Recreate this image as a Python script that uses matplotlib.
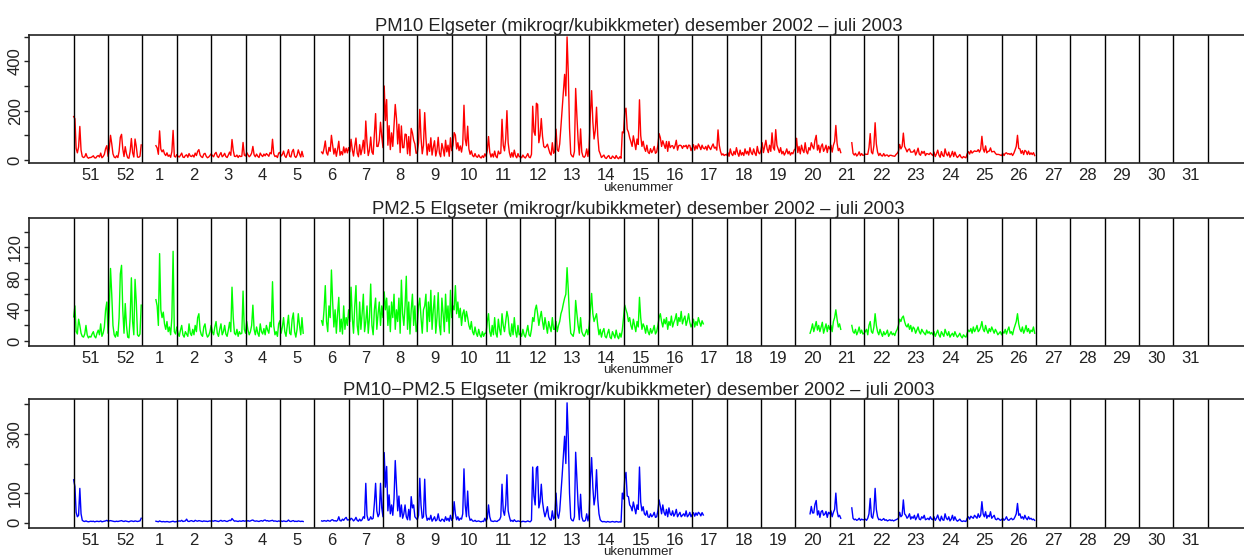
import numpy as np
import matplotlib.pyplot as plt

plt.rcParams['font.family'] = ['Liberation Sans Narrow', 'Liberation Sans', 'DejaVu Sans']

nan = np.nan

# 6-hourly values, one line per week (week 51/2002 .. week 26/2003), 28 values each
pm10 = [
    176, 167, 47, 29, 53, 136, 40, 14, 10, 13, 26, 12, 7, 10, 10, 13, 17, 9, 8, 15, 18, 12, 28, 9, 14, 23, 46, 58,
    15, 46, 100, 66, 25, 12, 9, 17, 10, 35, 92, 104, 45, 14, 54, 25, 9, 7, 35, 87, 30, 12, 85, 55, 12, 11, 15, 61,
    *[nan] * 11, 58, 49, 23, 118, 44, 33, 41, 25, 18, 29, 15, 20, 11, 34, 120, 15, 12,
    22, 15, 12, 19, 28, 12, 10, 18, 21, 11, 26, 16, 14, 20, 12, 28, 18, 35, 42, 20, 13, 10, 24, 27, 15, 9, 12, 18,
    25, 18, 13, 25, 31, 15, 10, 21, 30, 13, 18, 27, 14, 10, 20, 32, 19, 83, 39, 15, 14, 20, 10, 18, 14, 15, 71, 20,
    16, 30, 21, 13, 18, 28, 55, 21, 13, 24, 15, 10, 28, 19, 14, 24, 17, 26, 21, 15, 30, 25, 84, 25, 14, 17, 10, 28,
    31, 16, 22, 36, 17, 10, 25, 42, 15, 12, 34, 43, 16, 10, 19, 41, 25, 12, 35, 14, *[nan] * 8,
    *[nan] * 6, 32, 25, 47, 77, 30, 20, 51, 35, 100, 60, 24, 47, 15, 43, 76, 19, 34, 21, 53, 29, 48, 29,
    50, 33, 84, 42, 16, 55, 89, 28, 13, 62, 21, 45, 80, 27, 158, 70, 18, 40, 93, 32, 23, 105, 188, 55, 55, 80, 153, 95,
    50, 300, 160, 245, 60, 139, 42, 110, 55, 140, 225, 168, 65, 145, 30, 138, 50, 50, 105, 103, 25, 95, 18, 128, 110, 80, 65, 27,
    30, 70, 205, 90, 25, 60, 192, 90, 20, 65, 35, 90, 20, 52, 78, 16, 40, 92, 28, 13, 67, 45, 16, 80, 33, 60, 15, 90,
    38, 60, 111, 101, 45, 70, 38, 57, 32, 65, 222, 85, 58, 137, 45, 23, 37, 18, 13, 26, 14, 11, 21, 12, 8, 17, 10, 25,
    15, 40, 95, 32, 12, 25, 12, 36, 15, 9, 36, 25, 28, 165, 60, 37, 85, 200, 70, 30, 11, 30, 12, 40, 17, 9, 26, 13,
    14, 9, 20, 12, 8, 16, 26, 12, 9, 23, 218, 115, 100, 230, 225, 70, 100, 168, 96, 55, 50, 55, 64, 45, 28, 20, 70, 27,
    35, 125, 42, 35, 65, 135, 200, 274, 347, 260, 499, 351, 130, 25, 16, 12, 35, 290, 180, 80, 20, 126, 32, 14, 11, 18, 45, 14,
    50, 190, 281, 155, 85, 120, 214, 100, 38, 25, 10, 15, 20, 9, 6, 14, 18, 7, 6, 16, 11, 6, 18, 9, 5, 13, 7, 114,
    110, 196, 210, 125, 113, 90, 74, 55, 98, 70, 42, 85, 63, 244, 100, 55, 76, 48, 35, 60, 32, 26, 46, 30, 39, 55, 27, 32,
    60, 107, 90, 55, 78, 63, 47, 75, 35, 75, 50, 57, 58, 46, 58, 80, 40, 58, 60, 58, 47, 58, 54, 60, 46, 60, 59, 38,
    50, 62, 40, 58, 45, 65, 55, 42, 60, 48, 45, 55, 40, 60, 50, 42, 55, 65, 48, 52, 40, 122, 60, 35, 20, 25, 18, 22,
    20, 30, 15, 45, 25, 18, 35, 22, 50, 28, 15, 40, 20, 30, 18, 45, 25, 35, 20, 50, 30, 22, 45, 28, 18, 55, 30, 25,
    40, 70, 30, 55, 80, 45, 30, 60, 35, 110, 50, 40, 123, 60, 45, 30, 50, 25, 35, 20, 30, 45, 25, 35, 20, 30, 25, 40,
    45, 88, 30, 55, 25, 60, 40, 30, 70, 35, 25, 50, 40, 70, 55, 45, 80, 100, 40, 60, 30, 55, 65, 35, 45, 60, 30, 55,
    45, 60, 32, 60, 75, 140, 68, 38, 47, 30, *[nan] * 8, 70, 27, 20, 27, 16, 22, 33, 18, 26, 19,
    20, 24, 23, 23, 50, 107, 32, 25, 58, 151, 65, 32, 18, 27, 18, 16, 26, 16, 20, 20, 14, 19, 19, 17, 16, 15, 22, 27,
    35, 63, 45, 55, 109, 55, 45, 33, 42, 45, 32, 32, 33, 41, 20, 32, 48, 24, 19, 35, 27, 35, 18, 26, 25, 22, 29, 23,
    18, 32, 14, 25, 40, 20, 11, 34, 19, 14, 45, 25, 17, 32, 11, 20, 35, 14, 32, 18, 10, 15, 22, 12, 8, 14, 11, 9,
    25, 34, 24, 38, 28, 33, 37, 35, 35, 42, 32, 43, 96, 45, 32, 57, 29, 35, 36, 49, 33, 34, 35, 27, 22, 23, 22, 20,
    18, 27, 18, 27, 29, 24, 26, 22, 27, 18, 27, 40, 55, 100, 47, 45, 27, 38, 22, 39, 35, 22, 36, 22, 29, 22, 30, 18,
]

pm25 = [
    31, 45, 12, 9, 28, 20, 10, 6, 5, 9, 20, 8, 4, 6, 5, 9, 12, 6, 4, 10, 14, 8, 22, 6, 10, 18, 40, 50,
    10, 40, 93, 60, 20, 8, 5, 12, 6, 30, 86, 97, 40, 10, 48, 20, 5, 4, 30, 81, 25, 8, 79, 50, 8, 6, 9, 46,
    *[nan] * 11, 53, 45, 20, 112, 40, 30, 37, 22, 15, 25, 12, 18, 8, 30, 115, 12, 9,
    18, 10, 6, 14, 20, 8, 5, 12, 9, 6, 22, 10, 7, 15, 8, 20, 12, 30, 35, 14, 8, 6, 18, 22, 10, 5, 7, 12,
    20, 12, 8, 18, 25, 10, 6, 15, 22, 8, 12, 20, 9, 6, 14, 24, 12, 69, 30, 10, 8, 15, 6, 12, 9, 10, 64, 15,
    10, 25, 14, 8, 12, 20, 46, 15, 8, 18, 10, 6, 22, 12, 9, 16, 8, 20, 14, 10, 24, 18, 76, 20, 8, 12, 6, 22,
    26, 10, 18, 30, 12, 6, 20, 33, 10, 8, 28, 36, 12, 5, 15, 35, 20, 8, 30, 10, *[nan] * 8,
    *[nan] * 6, 26, 20, 40, 71, 25, 12, 45, 30, 91, 50, 18, 40, 10, 35, 56, 12, 28, 9, 45, 15, 30, 20,
    40, 25, 69, 30, 10, 45, 71, 20, 8, 50, 15, 35, 60, 12, 25, 45, 10, 30, 73, 20, 8, 40, 55, 15, 35, 50, 20, 45,
    30, 63, 40, 55, 20, 45, 12, 50, 30, 60, 15, 40, 25, 55, 10, 78, 35, 20, 45, 83, 15, 50, 9, 40, 60, 20, 45, 12,
    20, 45, 55, 30, 10, 40, 45, 60, 12, 50, 25, 65, 15, 40, 58, 10, 30, 62, 20, 8, 55, 35, 12, 60, 25, 45, 10, 65,
    30, 45, 40, 71, 35, 50, 30, 42, 20, 35, 40, 25, 38, 30, 20, 15, 25, 12, 8, 18, 10, 6, 15, 8, 5, 12, 6, 10,
    10, 25, 35, 12, 6, 20, 8, 30, 10, 5, 28, 15, 8, 35, 20, 12, 25, 38, 30, 10, 6, 22, 8, 30, 12, 5, 20, 8,
    10, 6, 15, 8, 5, 12, 20, 8, 6, 15, 30, 25, 40, 46, 35, 20, 30, 38, 25, 15, 30, 20, 10, 25, 18, 12, 30, 15,
    15, 25, 12, 20, 25, 35, 40, 48, 55, 60, 94, 65, 30, 10, 8, 6, 15, 52, 35, 20, 10, 30, 12, 8, 6, 10, 15, 8,
    20, 40, 61, 35, 25, 30, 35, 20, 8, 15, 5, 12, 16, 6, 4, 10, 15, 5, 3, 12, 8, 4, 14, 6, 3, 10, 5, 14,
    30, 46, 40, 35, 25, 30, 20, 15, 28, 20, 12, 25, 18, 56, 30, 15, 22, 18, 10, 20, 12, 8, 16, 10, 14, 20, 9, 12,
    20, 30, 35, 25, 18, 28, 22, 30, 15, 25, 20, 32, 18, 24, 28, 35, 20, 30, 25, 38, 22, 28, 32, 20, 26, 35, 24, 18,
    22, 28, 18, 25, 20, 30, 24, 19, 26, 22, *[nan] * 18,
    *[nan] * 28,
    *[nan] * 28,
    *[nan] * 12, 10, 15, 22, 12, 18, 25, 14, 20, 12, 18, 24, 10, 16, 22, 12, 20,
    15, 20, 12, 25, 30, 40, 28, 18, 22, 15, *[nan] * 8, 20, 12, 10, 15, 8, 12, 18, 10, 14, 9,
    10, 12, 15, 8, 20, 25, 12, 10, 18, 35, 20, 12, 8, 15, 10, 6, 12, 8, 10, 14, 6, 9, 12, 8, 10, 7, 12, 15,
    20, 28, 25, 30, 32, 25, 20, 18, 22, 15, 20, 12, 18, 16, 10, 14, 18, 12, 9, 15, 12, 10, 8, 14, 10, 12, 9, 11,
    8, 12, 6, 10, 14, 8, 5, 12, 9, 6, 15, 10, 7, 12, 5, 8, 10, 6, 12, 8, 5, 7, 10, 6, 4, 8, 6, 5,
    10, 14, 12, 16, 10, 18, 12, 15, 20, 12, 14, 18, 25, 15, 12, 20, 14, 10, 16, 12, 18, 14, 10, 15, 12, 8, 10, 12,
    8, 12, 10, 15, 9, 14, 18, 10, 12, 8, 15, 20, 25, 35, 22, 15, 12, 18, 10, 14, 20, 12, 16, 10, 14, 12, 18, 10,
]

week_labels = ['51', '52'] + [str(k) for k in range(1, 32)]

titles = [
    'PM10 Elgseter (mikrogr/kubikkmeter) desember 2002 \u2013 juli 2003',
    'PM2.5 Elgseter (mikrogr/kubikkmeter) desember 2002 \u2013 juli 2003',
    'PM10\u2212PM2.5 Elgseter (mikrogr/kubikkmeter) desember 2002 \u2013 juli 2003',
]

pm10 = np.array(pm10, dtype=float)
pm25 = np.array(pm25, dtype=float)
assert len(pm10) == len(pm25) == 28 * 28
coarse = pm10 - pm25
t = np.arange(len(pm10)) * 0.25  # days since start of week 51

fig = plt.figure(figsize=(12.44, 5.6), dpi=100)

panels = [
    (pm10, '#ff0000', [0.0233, 0.7084, 0.9797, 0.2291], (-13.4, 506.7), np.arange(0, 501, 100), [0, 200, 400]),
    (pm25, '#00ff00', [0.0233, 0.3821, 0.9797, 0.2291], (-6.4, 158), np.arange(0, 141, 20), [0, 40, 80, 120]),
    (coarse, '#0000ff', [0.0233, 0.0577, 0.9797, 0.2298], (-16.9, 418), np.arange(0, 401, 100), [0, 100, 300]),
]

for (y, col, pos, ylim, yt, shown), title in zip(panels, titles):
    ax = fig.add_axes(pos)
    ax.plot(t, y, color=col, lw=1.0)
    for d in range(0, 7 * 33 + 1, 7):
        ax.axvline(d, color='black', lw=1.0)
    ax.set_xlim(-9.106, 239.15)
    ax.set_ylim(*ylim)
    ax.set_xticks(np.arange(33) * 7 + 3.5)
    ax.set_xticklabels(week_labels)
    ax.tick_params(axis='x', length=0, pad=3.5, labelsize=12, colors='#222222')
    ax.set_yticks(yt)
    ax.set_yticklabels([str(v) if v in shown else '' for v in yt], rotation=90, va='center')
    ax.tick_params(axis='y', length=3.5, width=1, pad=1, labelsize=12, colors='#222222')
    ax.spines['right'].set_visible(False)
    for s in ['left', 'top', 'bottom']:
        ax.spines[s].set_linewidth(1.2)
        ax.spines[s].set_color('#222222')
    ax.set_title(title, fontsize=13.3, pad=0, color='#222222')
    ax.set_xlabel('ukenummer', fontsize=9.5, labelpad=-1, color='#222222')

fig.savefig('out.png', dpi=100)
